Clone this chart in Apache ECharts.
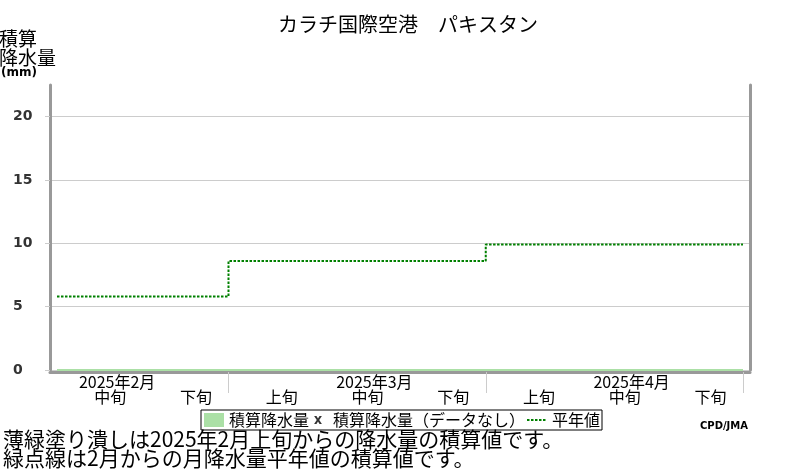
<!DOCTYPE html>
<html>
<head>
<meta charset="utf-8">
<script src="https://cdn.jsdelivr.net/npm/echarts@6/dist/echarts.min.js"></script>
<style>
html,body{margin:0;padding:0;background:#fff;}
#chart{width:800px;height:470px;}
</style>
</head>
<body>
<div id="chart"></div>
<script>
// ---- data ----
const dekadLabels = ['中旬','下旬','上旬','中旬','下旬','上旬','中旬','下旬'];
const monthLabels = ['2025年2月','','','2025年3月','','','2025年4月',''];
const observed = [0,0,0,0,0,0,0,0];           // 積算降水量 (mm)
const normal = [5.8,5.8,8.6,8.6,8.6,9.9,9.9,9.9]; // 平年値 積算 (mm)
const yTicks = [0,5,10,15,20];
const monthBoundaries = [2,5,8];
const titleText = 'カラチ国際空港　パキスタン';
const noteText = '薄緑塗り潰しは2025年2月上旬からの降水量の積算値です。\n緑点線は2月からの月降水量平年値の積算値です。';

// ---- build step data ----
function stepData(vals){
  const out = [];
  vals.forEach((v,i)=>{ out.push([i,v]); out.push([i+1,v]); });
  return out;
}
const labelPos = dekadLabels.map((_,i)=>i+0.62);
const JP = 'Noto Sans CJK JP';
const xIcon = 'path://M-4,-4 L-3.99,-4 L-4,-3.99 Z M14,14 L13.99,14 L14,13.99 Z M0,0 L3,0 L5,3 L7,0 L10,0 L6.6,5 L10,10 L7,10 L5,7 L3,10 L0,10 L3.4,5 Z';
const dotIcon = 'path://M0,0 L0.01,0 L0,0.01 Z M0,14 L0.01,14 L0,13.99 Z M0,6 h2.5 v2 h-2.5 Z M4,6 h2.5 v2 h-2.5 Z M8,6 h2.5 v2 h-2.5 Z M12,6 h2.5 v2 h-2.5 Z M16,6 h2.5 v2 h-2.5 Z M20,6 L20.01,6 L20,6.01 Z';

const chart = echarts.init(document.getElementById('chart'), null, {renderer:'canvas'});
chart.setOption({
  animation:false,
  textStyle:{fontFamily:JP},
  title:[
    {text:titleText, left:273, top:9,
     textStyle:{fontSize:20, fontWeight:'normal', color:'#000', fontFamily:JP}},
    {text:'{a|積算}\n{a|降水量}\n{b|(mm)}', left:-1, top:29, padding:0,
     textStyle:{rich:{
       a:{fontSize:19, lineHeight:19, fontWeight:'normal', color:'#000', fontFamily:JP},
       b:{fontSize:12, lineHeight:12, fontWeight:'bold', color:'#000', fontFamily:'DejaVu Sans', padding:[0,0,0,2]}
     }}},
    {text:noteText, left:3, top:430, padding:0,
     textStyle:{fontSize:21, lineHeight:19, fontWeight:'normal', color:'#000', fontFamily:JP}},
    {text:'CPD/JMA', left:700, top:421, padding:0,
     textStyle:{fontSize:10, fontWeight:'bold', color:'#000', fontFamily:'DejaVu Sans'}}
  ],
  legend:{
    left:201, top:410, padding:[2,2,2,3], itemGap:2,
    itemWidth:20, itemHeight:14,
    borderColor:'#000', borderWidth:1,
    selectedMode:false,
    textStyle:{fontSize:16, color:'#000', fontFamily:JP},
    data:[
      {name:'積算降水量', icon:'rect', itemStyle:{color:'#abe0a6'}},
      {name:'積算降水量（データなし）', icon:xIcon, itemStyle:{color:'#000'}},
      {name:'平年値', icon:dotIcon, itemStyle:{color:'#008000'}}
    ]
  },
  grid:{left:50, right:50, top:85, bottom:100},
  xAxis:{
    type:'value', min:-0.0816, max:8.0816, offset:2,
    axisLine:{show:true, onZero:false, lineStyle:{color:'#999', width:3}},
    axisTick:{show:true, customValues:monthBoundaries, length:21, lineStyle:{color:'#ccc', width:1}},
    splitLine:{show:false},
    axisLabel:{
      customValues:labelPos, margin:2,
      formatter:function(v){
        const i = Math.floor(v);
        const m = monthLabels[i] || ' ';
        return '{m|'+m+'}\n{d|'+dekadLabels[i]+'}';
      },
      rich:{
        m:{fontSize:16, lineHeight:15, color:'#000', fontFamily:JP, padding:[0,0,0,14]},
        d:{fontSize:16, lineHeight:16, color:'#000', fontFamily:JP}
      }
    }
  },
  yAxis:[
    {type:'value', min:0, max:22.5, interval:5, position:'left',
     axisLine:{show:true, onZero:false, lineStyle:{color:'#999', width:3}},
     axisTick:{show:true, customValues:yTicks, length:5, lineStyle:{color:'#ccc'}},
     splitLine:{show:true, lineStyle:{color:'#ccc', width:1}},
     axisLabel:{customValues:yTicks, margin:37, align:'left',
       fontSize:14, fontWeight:'bold', color:'#333', fontFamily:'DejaVu Sans'}},
    {type:'value', min:0, max:22.5, interval:5, position:'right',
     axisLine:{show:true, onZero:false, lineStyle:{color:'#999', width:3}},
     axisTick:{show:false}, splitLine:{show:false}, axisLabel:{show:false}}
  ],
  series:[
    {name:'積算降水量', type:'line', data:stepData(observed), symbol:'none',
     color:'#abe0a6',
     lineStyle:{color:'#abe0a6', width:2},
     areaStyle:{color:'#abe0a6', opacity:1}, z:3},
    {name:'積算降水量（データなし）', type:'scatter', data:[],
     symbol:xIcon, itemStyle:{color:'#000'}},
    {name:'平年値', type:'line', data:stepData(normal), symbol:'none',
     color:'#008000',
     lineStyle:{color:'#008000', width:2, type:[2.5,1.5]}, z:4}
  ]
});
</script>
</body>
</html>
